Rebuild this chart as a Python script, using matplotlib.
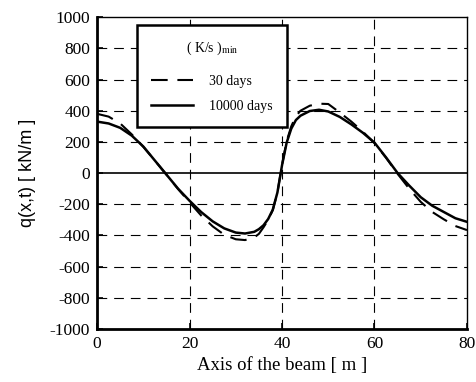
import numpy as np
import matplotlib
matplotlib.use("Agg")
import matplotlib.pyplot as plt

plt.rcParams.update({'font.family': 'Liberation Serif', 'font.size': 12,
                     'mathtext.fontset': 'stix', 'lines.scale_dashes': False,
                     'axes.unicode_minus': False})

# solid curve (10000 days)
x_long = [0, 2.5, 5, 7.5, 10, 12.5, 15, 17.5, 20, 22.5, 25, 27.5, 30, 32, 34, 35, 36, 37, 38, 39, 40,
          41, 42, 43, 44, 46, 48, 50, 52.5, 55, 57.5, 60, 62.5, 65, 67.5, 70, 72.5, 75, 77.5, 80]
q_long = [330, 318, 290, 240, 170, 80, -10, -100, -178, -250, -310, -355, -382, -388, -377, -360, -335, -295, -235, -125, 50,
          195, 285, 340, 368, 398, 406, 395, 360, 312, 258, 195, 100, 0, -80, -155, -210, -250, -290, -313]
# dashed curve (30 days)
x_short = x_long
q_short = [380, 362, 318, 248, 168, 80, -10, -102, -188, -272, -342, -396, -425, -430, -413, -390, -348, -300, -238, -125, 52,
           205, 300, 365, 400, 432, 445, 443, 388, 330, 265, 192, 98, -5, -100, -185, -250, -297, -340, -366]

xticks = [0, 20, 40, 60, 80]
yticks = [-1000, -800, -600, -400, -200, 0, 200, 400, 600, 800, 1000]

fig = plt.figure(figsize=(4.76, 3.82), dpi=100)
ax = fig.add_axes([0.204, 0.139, 0.777, 0.816])

for yv in yticks[1:-1]:
    if yv != 0:
        ax.axhline(yv, color='k', lw=0.8, dashes=(7, 5), zorder=1)
for xv in xticks[1:-1]:
    ax.axvline(xv, color='k', lw=0.8, dashes=(7, 5), zorder=1)
ax.axhline(0, color='k', lw=1.2, zorder=1)

ax.plot(x_short, q_short, color='k', lw=1.5, dashes=(12, 7), label='30 days', zorder=3)
ax.plot(x_long, q_long, color='k', lw=1.8, label='10000 days', zorder=3)

ax.set_xlim(0, 80)
ax.set_ylim(-1000, 1000)
ax.set_xticks(xticks)
ax.set_yticks(yticks)
ax.tick_params(direction='in', length=4, width=1.2, labelsize=12.5, pad=5)
ax.spines['left'].set_linewidth(2)
ax.spines['bottom'].set_linewidth(2)
ax.spines['top'].set_linewidth(1)
ax.spines['right'].set_linewidth(1)

ax.set_xlabel('Axis of the beam [ m ]', fontsize=13.5, labelpad=4)
ax.set_ylabel('q(x,t) [ kN/m ]', fontsize=13, family='Liberation Sans', labelpad=10)

leg = ax.legend(loc='upper left', bbox_to_anchor=(0.108, 0.974), title='( K/s )$_{\\rm min}$',
                fontsize=10, title_fontsize=10, frameon=True, fancybox=False, framealpha=1,
                edgecolor='k', handlelength=3.0, labelspacing=0.9, borderpad=1.0,
                handletextpad=1.2, borderaxespad=0)
leg.get_frame().set_linewidth(1.8)
leg._legend_box.sep = 13
leg.set_zorder(5)

plt.savefig('out.png', dpi=100)
